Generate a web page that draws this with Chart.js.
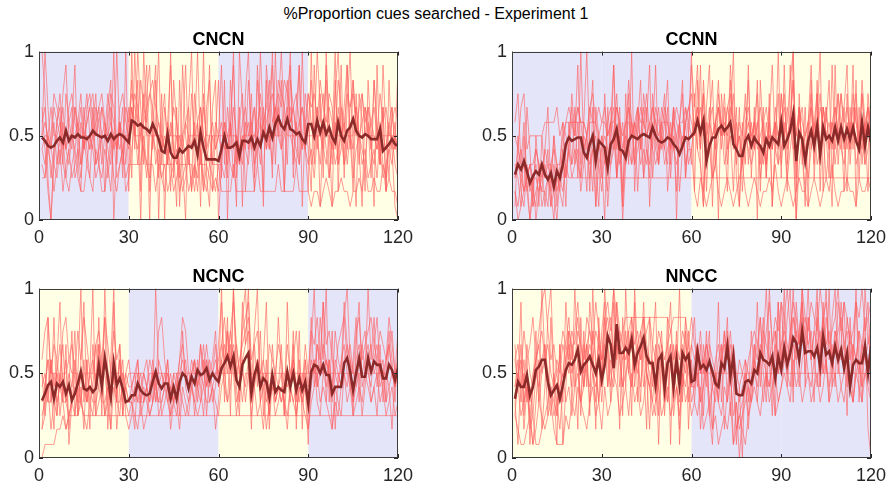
<!DOCTYPE html>
<html><head><meta charset="utf-8">
<script src="https://cdn.jsdelivr.net/npm/chart.js@4"></script>
<style>
html,body{margin:0;padding:0;background:#fff;}
body{width:888px;height:486px;position:relative;overflow:hidden;font-family:"Liberation Sans",Arial,sans-serif;}
canvas{position:absolute;}
#suptitle{position:absolute;left:0;width:872px;top:5px;text-align:center;font-size:16px;line-height:18px;color:#000;}
</style></head>
<body>
<div id="suptitle">%Proportion cues searched - Experiment 1</div>
<canvas id="c0" width="420" height="221" style="left:0px;top:29px"></canvas>
<canvas id="c1" width="415" height="221" style="left:473px;top:29px"></canvas>
<canvas id="c2" width="420" height="222" style="left:0px;top:266px"></canvas>
<canvas id="c3" width="415" height="222" style="left:473px;top:266px"></canvas>
<script>
const panelTitles = ['CNCN','CCNN','NCNC','NNCC'];
const phaseOrder = [['C','N','C','N'],['C','C','N','N'],['N','C','N','C'],['N','N','C','C']];
const phaseEdges = [0,30,60,90,120];
const xTicks = [0,30,60,90,120];
const yTicks = [0,0.5,1];
const trials = Array.from({length:120},(_, i)=>i+1);

const meanCNCN = [.49,.47,.44,.43,.44,.47,.49,.46,.53,.47,
.50,.49,.51,.49,.49,.48,.50,.53,.51,.50,
.49,.50,.47,.51,.48,.50,.51,.50,.48,.46,
.59,.58,.56,.57,.55,.54,.52,.57,.53,.48,
.41,.40,.51,.40,.37,.37,.42,.40,.42,.44,
.43,.47,.39,.52,.43,.36,.36,.36,.36,.35,
.42,.50,.43,.43,.44,.46,.38,.47,.47,.46,
.49,.43,.48,.44,.52,.48,.55,.49,.57,.61,
.56,.54,.60,.54,.53,.51,.52,.48,.46,.57,
.57,.50,.59,.52,.58,.51,.55,.49,.46,.58,
.50,.47,.53,.55,.60,.53,.50,.49,.51,.50,
.48,.48,.48,.54,.41,.43,.45,.48,.45,.44];
const meanCCNN = [.27,.33,.30,.35,.29,.22,.26,.29,.27,.33,
.27,.24,.28,.20,.29,.25,.33,.45,.49,.47,
.48,.49,.49,.40,.37,.45,.50,.35,.47,.45,
.43,.31,.45,.48,.54,.42,.41,.37,.47,.50,
.49,.48,.50,.51,.50,.49,.55,.50,.47,.46,
.47,.49,.48,.45,.43,.39,.44,.49,.48,.50,
.52,.59,.52,.59,.35,.44,.49,.49,.54,.56,
.53,.55,.58,.45,.42,.38,.38,.47,.50,.44,
.49,.46,.44,.40,.48,.44,.49,.47,.45,.58,
.44,.48,.53,.63,.35,.52,.48,.35,.47,.53,
.44,.56,.39,.55,.48,.50,.47,.55,.47,.55,
.48,.54,.48,.55,.47,.42,.58,.44,.55,.46];
const meanNCNC = [.34,.38,.43,.45,.35,.44,.42,.45,.38,.43,
.34,.38,.44,.51,.41,.40,.42,.39,.41,.55,
.42,.59,.48,.36,.56,.43,.47,.41,.33,.34,
.37,.37,.44,.40,.38,.37,.38,.45,.51,.44,
.41,.44,.44,.35,.42,.35,.45,.50,.48,.41,
.48,.44,.52,.49,.50,.53,.46,.50,.47,.45,
.53,.56,.60,.54,.60,.46,.42,.55,.59,.62,
.38,.49,.55,.42,.47,.45,.36,.49,.39,.42,
.40,.39,.51,.42,.50,.40,.47,.40,.45,.32,
.51,.55,.54,.50,.55,.49,.49,.38,.42,.42,
.42,.56,.59,.51,.40,.50,.59,.48,.48,.59,
.51,.57,.55,.55,.47,.47,.55,.52,.46,.53];
const meanNNCC = [.35,.45,.42,.42,.49,.37,.42,.52,.54,.58,
.58,.45,.37,.40,.43,.35,.43,.52,.56,.55,
.58,.64,.51,.55,.57,.60,.55,.50,.58,.46,
.55,.72,.67,.53,.79,.62,.62,.65,.62,.70,
.55,.62,.66,.71,.60,.56,.56,.43,.58,.61,
.41,.56,.60,.42,.58,.43,.62,.58,.61,.45,
.46,.63,.53,.55,.52,.57,.51,.44,.42,.56,
.53,.66,.48,.60,.38,.37,.37,.45,.46,.44,
.52,.50,.62,.58,.57,.55,.60,.47,.60,.52,
.65,.55,.62,.71,.68,.58,.75,.62,.63,.63,
.60,.65,.54,.72,.61,.63,.56,.66,.58,.64,
.53,.62,.42,.55,.58,.56,.56,.66,.50,.66];

const cncnP1 = [.5,1,.67,.42,.58,.33,.5,.75,.92,.5,.42,.67,.5,.33,.58,.75,.5,.42,.67,.58,.33,.5,.75,.58,.42,1,.5,.67,.33,.58,.83,.5,1,.67,.33,.75,.92,.42,.58,1,.33,.67,.5,.17,.83,.58,.25,.92,.5,.33,.75,.5,1,.42,.17,.67,.83,.33,.58,.5,.92,.33,.67,.5,1,.25,.58,.75,.42,.83,.5,.67,.33,1,.58,.42,.75,.92,.5,.67,1,.58,.33,.83,.67,.5,.92,.42,.75,.58,.83,.5,1,.67,.42,.92,.58,.33,.75,1,.5,.67,.92,.42,.83,.58,.33,.75,.5,.67,.42,.83,.58,.33,.92,.5,.25,.67,.42,.92];
const cncnP2 = [.25,.25,.42,.33,.17,.33,.5,.33,.25,.17,.33,.42,.25,.17,.17,.33,.5,.42,.25,.33,.17,.17,.33,.5,.25,.17,.33,.42,.25,.33,.33,.33,.33,.33,.5,.33,.33,.33,.17,.33,.33,.33,.33,.33,.33,.5,.33,.33,.33,.33,.33,.17,.33,.33,.33,.33,.5,.33,.33,.33,.17,.17,.17,.17,.33,.17,.17,.17,.17,.17,.17,.17,.33,.17,.17,.17,.17,.17,.17,.33,.17,.17,.17,.17,.17,.33,.17,.17,.17,.17,.08,.17,.17,.08,.17,.25,.17,.08,.17,.17,.25,.17,.17,.08,.17,.17,.25,.17,.33,.17,.17,.25,.17,.17,.33,.17,.25,.17,.17,.08];
const cncnP3 = [.42,.5,.5,.67,.5,.5,.58,.5,.42,.5,.5,.5,.58,.5,.5,.5,.42,.5,.5,.67,.5,.5,.5,.58,.5,.5,.42,.5,.5,.5,.67,.5,.5,.5,.75,.5,.5,.5,.5,.5,.5,.42,.5,.5,.5,.5,.5,.5,.33,.5,.5,.5,.5,.5,.67,.5,.5,.5,.5,.5,.5,.5,.5,.5,.5,.5,.42,.5,.5,.5,.5,.5,.5,.58,.5,.5,.5,.5,.5,.5,.5,.67,.5,.5,.5,.5,.5,.42,.5,.5,.5,.5,.5,.5,.58,.5,.5,.5,.5,.5,.5,.5,.5,.5,.5,.67,.5,.5,.5,.5,.5,.5,.42,.5,.5,.5,.5,.5,.5,.5];
const cncnP4 = [1,.75,.25,0,.42,.58,.67,.33,.75,.58,.67,.25,.33,.58,.42,.67,.75,.58,.33,.42,.67,.58,.25,.42,1,.33,.58,.42,.5,.67,.25,1,.58,0,.67,.92,.17,.5,.83,0,.58,.75,.33,1,.25,.67,.08,.5,.92,.42,.17,.75,.58,.33,1,.25,.08,.67,.83,0,.33,.58,.25,.83,.5,.08,1,.67,.17,.42,.75,.25,.92,.58,.17,.83,.42,1,.33,.67,.5,.17,.75,.92,.25,.58,.33,1,.42,.17,1,.33,.67,.08,.58,.83,.25,.5,1,.17,.67,.33,.92,.5,.17,.75,.42,.08,.67,.58,.25,.83,.5,.33,.67,.17,.58,.42,.08,0];
const cncnP5 = [.58,.67,.42,.5,.75,.67,.58,.42,.5,.67,.75,.58,.5,.67,.42,.58,.67,.75,.5,.58,.67,.5,.58,.75,.67,.42,.58,.5,.67,.58,.75,.67,.58,.83,.67,.58,.75,.67,.5,.58,.42,.5,.33,.58,.42,.33,.5,.42,.58,.5,.42,.58,.33,.67,.5,.42,.33,.5,.42,.5,.42,.58,.5,.42,.67,.5,.42,.58,.67,.5,.58,.67,.5,.75,.58,.67,.83,.58,.67,.75,.67,.83,.75,.58,.67,.75,.58,.67,.5,.75,.67,.75,.58,.83,.67,.58,.75,.67,.5,.83,.67,.58,.75,.67,.83,.5,.67,.75,.58,.67,.58,.67,.5,.75,.58,.67,.5,.58,.67,.58];
const cncnP6 = [.33,.25,.5,.42,.33,.25,.42,.17,.33,.42,.25,.33,.42,.25,.5,.33,.25,.17,.42,.33,.25,.42,.33,.17,.5,.25,.33,.42,.17,.25,.42,.58,.33,.5,.42,.25,.5,.58,.33,.42,.25,.17,.42,.33,.17,.25,.33,.17,.25,.42,.17,.33,.25,.42,.17,.33,.25,.17,.25,.17,.42,.5,.33,.58,.25,.42,.33,.5,.42,.33,.58,.42,.5,.33,.67,.5,.42,.58,.67,.5,.42,.58,.67,.5,.42,.33,.58,.5,.42,.33,.42,.25,.5,.33,.58,.42,.25,.5,.33,.42,.5,.33,.42,.58,.25,.42,.5,.33,.42,.25,.33,.42,.25,.5,.33,.25,.42,.33,.5,.42];
const cncnP7 = [.67,.42,.17,0,.33,.58,.75,.5,.25,.42,.58,.92,.33,.17,.67,.42,.25,.58,.75,.33,.5,.17,.67,.83,0,.42,.58,.25,1,.17,1,.42,.83,.17,1,.58,0,.67,.92,.25,.75,0,.58,.92,.42,.08,.83,.33,0,.67,1,.25,.58,.08,.75,.42,.92,.17,.5,.83,.25,.83,0,.58,.92,.33,.67,.08,.75,1,.42,.17,.83,.58,.08,.92,.67,.25,1,.5,.83,.17,.58,1,.33,.67,.92,.08,.58,.42,.17,.92,.42,.75,.25,1,.5,.08,.83,.33,.92,.25,.67,1,.42,.08,.75,.58,.17,.83,.5,.08,.92,.33,.67,.17,.83,.42,.58,.25];
const cncnP8 = [.5,.58,.5,.42,.67,.58,.5,.67,.42,.58,.5,.67,.58,.75,.5,.58,.67,.5,.58,.67,.75,.58,.5,.67,.58,.42,.67,.75,.58,.5,.58,.75,.67,.5,.58,.67,.75,.83,.67,.58,.5,.42,.58,.5,.67,.58,.42,.5,.58,.67,.42,.5,.58,.67,.5,.42,.5,.58,.42,.5,.58,.42,.5,.58,.42,.5,.33,.42,.5,.58,.42,.5,.58,.67,.5,.58,.67,.75,.58,.83,.75,.67,.83,.58,.67,.5,.58,.67,.58,.75,.58,.5,.67,.58,.75,.5,.67,.58,.42,.67,.5,.58,.42,.67,.75,.58,.5,.58,.67,.5,.58,.5,.42,.58,.5,.42,.58,.67,.42,.5];
const cncnP9 = [.42,.33,.5,.25,.42,.5,.33,.58,.42,.33,.5,.42,.58,.33,.42,.5,.42,.67,.33,.42,.5,.58,.42,.33,.5,.42,.58,.33,.5,.42,.67,.5,.42,.58,.42,.33,.25,.5,.42,.33,.25,.33,.17,.25,.33,.42,.17,.25,.33,.17,.25,.33,.17,.42,.25,.17,.33,.25,.17,.33,.33,.25,.42,.33,.25,.5,.42,.33,.58,.42,.5,.33,.42,.5,.58,.42,.5,.33,.67,.58,.42,.5,.58,.67,.5,.42,.33,.5,.42,.58,.33,.42,.58,.5,.42,.33,.5,.42,.58,.33,.42,.58,.33,.5,.42,.67,.5,.42,.33,.58,.42,.33,.5,.42,.25,.33,.42,.5,.33,.25];

const ccnnP1 = [.25,.33,.25,.17,.25,.33,.25,.25,.17,.25,.33,.25,.25,.17,.25,.25,.25,.33,.25,.25,.25,.25,.25,.25,.25,.25,.25,.25,.25,.25,.25,.25,.25,.25,.25,.25,.25,.25,.25,.25,.25,.25,.25,.25,.25,.25,.25,.25,.25,.25,.25,.25,.25,.25,.25,.25,.25,.25,.25,.25,.25,.25,.25,.25,.25,.25,.25,.25,.25,.25,.25,.25,.25,.25,.25,.25,.25,.25,.25,.25,.25,.25,.25,.25,.25,.25,.25,.25,.25,.25,.25,.25,.25,.25,.25,.25,.25,.25,.25,.25,.25,.25,.25,.25,.25,.25,.25,.25,.25,.25,.25,.25,.25,.25,.25,.25,.25,.25,.25,.25];
const ccnnP2 = [.08,.5,.17,.08,.33,.17,.25,0,.17,.33,.08,.25,.17,0,.33,.17,.08,.42,.5,.67,.33,.58,.25,.42,.5,.17,.67,.33,.08,.5,.42,.17,.58,.67,.25,.5,.08,.42,.75,.33,.58,.17,.5,.67,.42,.25,.75,.5,.33,.58,.42,.67,.25,.5,.17,.58,.42,.67,.5,.33,.75,.42,.92,.17,.5,.67,.08,.58,.83,.42,.67,.33,.58,1,.25,.08,.5,.75,.33,.58,.42,.83,.17,.58,.33,.67,.08,.5,.75,.25,.92,.33,.58,1,.17,.67,.42,.08,.58,.75,.33,.83,.17,.67,.5,.25,.92,.42,.58,.75,.5,.17,.67,.42,.83,.25,.58,.33,.75,.5];
const ccnnP3 = [.5,.42,.67,.75,.42,.5,.5,.5,.5,.5,.58,.58,.58,.58,.67,.5,.58,.5,.42,.58,.58,.58,.58,.58,.5,.67,.58,.58,.5,.58,.67,.5,.58,.42,.67,.58,.5,.58,.67,.5,.58,.5,.67,.58,.5,.58,.42,.67,.58,.5,.67,.58,.5,.58,.67,.58,.42,.58,.67,.58,.5,.58,.67,.5,.58,.42,.5,.58,.67,.5,.58,.5,.67,.58,.42,.58,.5,.67,.58,.5,.58,.42,.5,.58,.67,.5,.42,.58,.5,.58,.67,.5,.58,.42,.5,.67,.58,.5,.58,.42,.58,.5,.67,.58,.5,.42,.58,.67,.5,.58,.42,.58,.5,.67,.58,.5,.42,.58,.5,.58];
const ccnnP4 = [.33,.25,.08,.5,.17,0,.25,.33,.08,.5,.25,.42,.08,.33,.17,.25,.42,.08,.58,.33,.67,.25,1,.42,.17,.58,.83,.08,.5,.33,0,.67,.42,.92,.25,.58,.08,.75,.33,1,.17,.58,.83,.25,.67,.08,.5,.92,.33,.58,.75,.17,.42,.67,0,.58,.83,.25,.5,1,.17,.83,.33,.08,.67,.92,.25,.58,0,.75,.5,.17,.83,.42,.67,.08,.58,.33,.92,.25,.67,0,.83,.5,.25,.75,.08,.42,1,.33,.58,.17,.92,.42,0,.75,.33,.67,.08,.83,.25,.58,1,.17,.67,.42,.08,.92,.33,.58,.17,.75,.42,.92,.08,.67,.33,.58,.17,.83];
const ccnnP5 = [.25,.42,.33,.58,.25,.33,.17,.42,.33,.25,.42,.33,.25,.5,.33,.25,.42,.58,.67,.58,.5,.67,.58,.42,.5,.67,.75,.58,.42,.5,.33,.58,.67,.5,.75,.42,.58,.33,.67,.58,.5,.67,.42,.58,.75,.5,.67,.58,.42,.67,.58,.5,.42,.67,.58,.5,.42,.58,.67,.75,.5,.67,.42,.83,.5,.58,.67,.42,.75,.58,.5,.67,.75,.58,.42,.5,.33,.58,.67,.5,.42,.58,.67,.5,.33,.58,.42,.67,.5,.58,.75,.42,.58,.83,.5,.67,.42,.5,.58,.67,.42,.58,.75,.5,.67,.42,.58,.5,.75,.58,.67,.42,.58,.5,.67,.42,.75,.5,.67,.5];
const ccnnP6 = [.17,.08,.25,.33,.17,.25,.08,.17,.25,.17,.17,.25,.08,.17,.25,.17,.33,.25,.42,.33,.42,.33,.25,.5,.42,.33,.42,.5,.33,.42,.5,.42,.33,.42,.5,.33,.42,.5,.42,.33,.42,.5,.33,.42,.33,.5,.42,.33,.42,.5,.33,.42,.5,.42,.33,.42,.5,.33,.42,.42,.17,.08,.25,.17,.08,.17,.25,.33,.17,.08,.17,.25,.17,.08,.17,.25,.33,.17,.08,.17,.25,.17,.08,.17,.17,.25,.17,.33,.17,.08,.17,.25,.17,.08,.17,.25,.17,.17,.08,.17,.25,.17,.08,.17,.25,.17,.33,.17,.08,.17,.17,.25,.17,.17,.08,.25,.17,.17,.25,.17];
const ccnnP7 = [.58,.75,.33,.17,.67,.42,.08,.5,.25,.17,.42,.67,.17,.5,.08,.33,.58,.25,.42,.75,.5,.92,.33,.58,1,.42,.17,.67,.5,.25,.75,.33,.58,.92,.42,.67,.17,.5,.83,.58,.33,.67,.42,.75,.58,.92,.25,.5,.67,.42,.58,.83,.33,.67,.42,.58,.75,.25,.5,.92,.67,.92,.42,.75,.17,.58,.83,.33,.67,.5,.75,.42,.92,.58,.33,.67,.17,.5,.83,.42,.58,.75,.33,.67,.25,.58,.92,.42,.33,.75,.5,.58,.83,1,.25,.67,.42,.17,.58,.92,.42,.75,.33,.67,.58,.83,.25,.5,.75,.42,.67,.92,.33,.58,.75,.42,.83,.58,.67,.33];
const ccnnP8 = [.33,.33,.42,.33,.25,.33,.33,.42,.33,.33,.25,.33,.33,.42,.33,.33,.5,.58,.58,.58,.58,.67,.58,.58,.5,.58,.58,.58,.67,.58,.58,.5,.58,.58,.67,.58,.42,.58,.58,.5,.58,.67,.58,.58,.5,.58,.67,.58,.5,.58,.58,.58,.42,.58,.5,.58,.58,.67,.58,.5,.58,.67,.5,.75,.33,.58,.5,.58,.67,.58,.5,.67,.58,.75,.42,.5,.33,.5,.58,.42,.58,.5,.42,.33,.58,.42,.5,.58,.42,.75,.5,.67,.58,.83,.33,.58,.67,.42,.5,.67,.58,.75,.42,.67,.5,.58,.42,.67,.5,.75,.58,.67,.5,.75,.58,.42,.75,.5,.67,.58];
const ccnnP9 = [.17,0,.08,.17,.25,0,.17,.08,.33,.08,.17,.08,.33,.17,0,.25,.17,.33,.42,.25,.33,.42,.17,.33,.5,.25,.42,.08,.33,.17,.42,.08,.33,.5,.25,.42,0,.33,.42,.58,.33,.42,.5,.25,.42,.33,.58,.42,.33,.5,.42,.33,.58,.42,.5,.17,.42,.58,.33,.42,.58,.42,.33,.08,.5,.42,.25,.33,.5,.58,.33,.42,.5,.17,.58,.42,.33,.5,.42,.33,.42,.58,.25,.42,.33,.5,.42,.58,.33,.42,.5,.25,.42,.58,0,.33,.5,.42,.25,.42,.58,.33,.42,.5,.25,.42,.58,.33,.5,.42,.33,.5,.42,.58,.33,.42,.5,.33,.42,.58];

const ncncP1 = [0,.08,.08,.08,.08,.17,.17,.25,.17,.25,.25,.25,.25,.33,.25,.25,.25,.25,.25,.25,.25,.25,.25,.25,.25,.25,.25,.25,.25,.25,.25,.25,.25,.25,.25,.25,.25,.25,.25,.25,.25,.25,.25,.25,.25,.25,.25,.25,.25,.25,.25,.25,.25,.25,.25,.25,.25,.25,.25,.25,.25,.25,.25,.25,.25,.25,.25,.25,.25,.25,.25,.25,.25,.25,.25,.25,.25,.25,.25,.25,.25,.25,.25,.25,.25,.25,.25,.25,.25,.25,.25,.25,.25,.25,.25,.25,.25,.25,.25,.25,.25,.25,.25,.25,.25,.25,.25,.25,.25,.25,.25,.25,.25,.25,.25,.25,.25,.25,.25,.25];
const ncncP2 = [.5,.42,.58,.5,.5,.5,.42,.5,.5,.58,.5,.5,.5,.33,.5,.5,.5,.5,.67,.5,.5,.5,.33,.5,.5,.5,.5,.5,.42,.5,.5,.5,.5,.5,.5,.42,.5,.5,.5,.5,.5,.5,.5,.33,.5,.5,.5,.5,.5,.5,.5,.5,.5,.5,.5,.67,.5,.5,.5,.5,.5,.5,.5,.5,.5,.5,.5,.33,.5,.5,.5,.5,.5,.5,.5,.5,.5,.5,.5,.5,.5,.5,.42,.5,.5,.5,.5,.5,.5,.5,.5,.5,.5,.5,.5,.58,.5,.5,.5,.5,.5,.5,.5,.5,.5,.5,.5,.5,.5,.5,.5,.5,.5,.5,.5,.5,.42,.5,.5,.5];
const ncncP3 = [.17,.42,.58,.33,.83,.25,.5,.67,.33,.42,.75,.25,.5,1,.33,.58,.17,.67,.42,.83,.25,1,.5,.17,.92,.33,.58,.25,.42,.33,.33,.17,.5,.25,.33,.42,.25,.33,1,.5,.25,.33,.42,.17,.33,.5,.25,.75,.42,.33,.5,.25,.42,.33,.58,.25,.5,.33,.42,.67,.92,.33,.75,.5,1,.42,.25,.83,1,.58,.17,.67,.42,.75,.25,.58,.17,.5,.33,.42,.67,.25,.5,.33,.75,.17,.58,.33,.42,.08,.67,1,.42,.83,.58,1,.33,.75,.17,.5,.42,.83,1,.58,.25,.67,.92,.42,.5,1,.58,.83,.42,.67,.33,.5,.75,.58,.33,.67];
const ncncP4 = [.42,.5,.33,.58,.42,.5,.67,.42,.33,.5,.42,.58,.33,.5,.42,.33,.5,.58,.42,.67,.5,.58,.42,.33,.5,.42,.58,.33,.42,.33,.42,.33,.42,.5,.33,.42,.33,.58,.42,.33,.42,.5,.33,.42,.33,.25,.42,.5,.58,.42,.5,.58,.42,.67,.5,.58,.42,.5,.58,.5,.58,.67,.5,.75,.58,.67,.5,.58,.67,.75,.42,.5,.58,.42,.5,.33,.42,.5,.33,.42,.33,.42,.5,.42,.58,.42,.33,.5,.42,.33,.58,.5,.67,.58,.5,.58,.42,.33,.5,.42,.58,.67,.5,.42,.33,.58,.67,.5,.58,.67,.5,.58,.67,.5,.42,.58,.67,.5,.42,.58];
const ncncP5 = [.25,.33,.42,.17,.33,.25,.5,.33,.17,.25,.33,.25,.42,.33,.25,.17,.33,.42,.25,.33,.42,.25,.33,.17,.42,.33,.25,.5,.33,.25,.33,.25,.17,.33,.42,.33,.25,.33,.42,.33,.33,.42,.33,.25,.33,.33,.42,.33,.25,.33,.42,.33,.25,.33,.42,.33,.33,.42,.33,.25,.42,.5,.33,.42,.58,.33,.42,.5,.42,.58,.33,.42,.25,.33,.42,.17,.33,.42,.25,.33,.42,.33,.25,.42,.33,.25,.42,.33,.25,.17,.33,.42,.5,.33,.42,.33,.25,.17,.33,.25,.42,.5,.33,.42,.25,.33,.42,.33,.5,.42,.33,.42,.5,.33,.42,.25,.33,.42,.25,.33];
const ncncP6 = [.58,.75,.83,.5,.67,.58,.42,.75,.83,.58,.67,.5,.75,.58,.83,.67,.5,.42,.67,.75,.58,.83,.67,.5,.75,.58,.67,.42,.5,.58,.42,.5,.58,.33,.5,.42,.58,.5,.42,.75,.83,.58,.42,.5,.33,.42,.58,.83,.75,.5,.42,.58,.33,.5,.67,.42,.5,.58,.75,.42,.67,.83,.58,.75,.92,.67,.5,.75,.83,.92,.58,.67,.75,.5,.58,.42,.67,.58,.5,.67,.58,.42,.67,.5,.58,.75,.5,.42,.67,.5,.75,.67,.83,.58,.92,.67,.75,.58,.5,.67,.75,.83,.58,.67,.5,.75,.83,.58,.67,.75,.83,.67,.58,.75,.67,.58,.83,.67,.5,.75];
const ncncP7 = [.5,.25,.83,.42,.17,.58,.92,.33,.67,.17,.42,.75,.25,.58,.92,.33,.5,1,.25,.67,.42,.83,.17,.58,1,.33,.67,.25,.5,.42,.42,.5,.33,.42,.5,.58,.42,.5,.33,.58,.5,.42,.58,.33,.5,.42,.58,.67,.5,.42,.58,.5,.42,.67,.5,.42,.58,.5,.67,.42,1,.5,.83,.25,1,.58,.33,.92,.67,1,.42,.75,1,.33,.58,.92,.25,.67,.42,.83,.5,.25,.92,.42,.67,.33,.75,.17,.58,.42,.83,.42,.67,.5,.92,.33,.58,.42,.75,.58,.5,.92,.67,.42,.58,.83,.33,.67,.75,.5,.42,.67,.83,.5,.58,.33,.67,.75,.5,.58];
const ncncP8 = [.33,.42,.33,.33,.5,.33,.42,.33,.33,.25,.33,.42,.33,.33,.58,.33,.42,.33,.33,.42,.33,.33,.42,.33,.5,.33,.33,.42,.33,.33,.33,.42,.33,.33,.33,.42,.33,.5,.33,.42,.5,.42,.5,.42,.33,.42,.5,.58,.5,.42,.5,.58,.42,.5,.42,.58,.5,.42,.5,.58,.67,.58,.75,.58,.67,.5,.58,.67,.75,.83,.5,.42,.58,.5,.42,.5,.33,.42,.5,.42,.33,.42,.5,.42,.33,.42,.5,.42,.58,.33,.5,.58,.42,.5,.67,.58,.5,.42,.58,.5,.42,.58,.67,.58,.5,.42,.58,.67,.5,.58,.67,.5,.58,.42,.5,.58,.67,.5,.42,.5];
const ncncP9 = [.17,.25,.42,.58,.33,.5,.25,.42,.58,.08,.33,.5,.25,.42,.17,.58,.33,.25,.5,.42,.58,.25,.42,.33,.5,.17,.42,.58,.25,.17,.25,.42,.58,.33,.17,.25,.42,.33,.5,.25,.33,.42,.58,.25,.42,.33,.17,.42,.33,.25,.42,.33,.58,.42,.25,.5,.33,.42,.17,.33,.58,.42,.33,.67,.5,.25,.42,.58,.33,.5,.25,.42,.58,.33,.17,.42,.25,.5,.33,.42,.5,.33,.17,.42,.58,.25,.42,.33,.5,.17,.42,.58,.33,.25,.5,.42,.58,.17,.42,.33,.25,.5,.42,.58,.33,.42,.5,.25,.42,.58,.33,.42,.25,.58,.5,.33,.42,.17,.5,.42];

const nnccP1 = [.58,.42,.67,.33,.5,.25,.42,.58,.33,.5,.67,.42,.25,.5,.33,.17,.42,.58,.5,.67,.42,.58,.33,.67,.5,.42,.75,.58,.33,.5,.67,.42,.58,.5,.75,.42,.58,.67,.5,.42,.58,.5,.67,.42,.58,.5,.33,.58,.42,.67,.5,.33,.58,.42,.67,.5,.42,.58,.5,.42,.5,.5,.5,.5,.5,.5,.5,.5,.5,.5,.5,.5,.5,.5,.5,.5,.5,.5,.5,.5,.5,.5,.5,.5,.5,.5,.5,.5,.5,.5,.5,.5,.5,.5,.5,.5,.5,.5,.5,.5,.5,.5,.5,.5,.5,.5,.5,.5,.5,.5,.5,.5,.5,.5,.5,.5,.5,.5,.5,.5];
const nnccP2 = [.33,.08,.5,.17,.42,.25,.08,.33,.58,.17,.42,.83,1,.5,.25,.67,.08,.42,.75,.33,.58,.17,.83,.42,.67,.25,1,.5,.33,.75,.92,.42,.67,1,.58,.17,.83,.42,.75,.25,1,.58,.33,.83,.5,.17,.67,.92,.25,.58,.42,.83,.08,.67,.5,1,.33,.75,.17,.58,.33,.58,.17,.42,.75,.25,.08,.5,.33,.67,.17,.42,.58,.08,.33,0,.25,.5,.17,.42,.67,.33,.58,.83,.42,1,.67,.25,.92,.58,1,.5,.75,.33,.92,.67,1,.42,.83,.58,.75,1,.42,.92,.58,.33,.83,1,.5,.67,.92,.42,.75,.58,1,.33,.67,.83,.17,0];
const nnccP3 = [.25,.17,.08,.08,.17,.25,.08,.17,.33,.25,.17,.25,.33,.17,.08,.08,.08,.25,.17,.33,.25,.42,.33,.25,.17,.33,.42,.25,.33,.17,.42,.25,.33,.5,.42,.25,.33,.42,.25,.5,.33,.42,.25,.33,.5,.42,.25,.33,.42,.25,.33,.42,.25,.33,.42,.25,.5,.33,.42,.25,.33,.25,.42,.17,.25,.33,.17,.25,.08,.17,.25,.17,.33,.08,.17,.25,.17,.08,.25,.33,.42,.33,.25,.42,.5,.33,.42,.25,.33,.42,.5,.42,.33,.58,.42,.5,.33,.42,.5,.33,.42,.5,.33,.42,.58,.33,.42,.5,.33,.42,.33,.5,.42,.33,.5,.42,.33,.5,.42,.33];
const nnccP4 = [.58,.67,.5,.75,.58,.67,.83,.58,.75,.92,1,.75,.58,.67,.5,.58,.75,.67,.83,.58,.75,.92,.67,.58,.83,.75,.67,.92,.75,.58,.83,.92,.75,1,.83,.67,.75,.83,.83,.83,.83,.83,.83,.83,.83,.83,.83,.83,.83,.83,.83,.83,.75,.83,.83,.83,.83,.83,.67,.83,.67,.58,.75,.5,.67,.58,.42,.58,.67,.5,.75,.58,.67,.5,.42,.58,.5,.42,.58,.67,.75,.67,.83,.58,.75,.92,.67,.83,.75,.92,.83,1,.75,.92,.83,.67,1,.83,.75,.92,.83,.75,1,.83,.92,.67,.75,.83,1,.75,.92,.83,.67,.75,.92,.83,1,.75,.83,.92];
const nnccP5 = [.42,.58,.33,.5,.42,.33,.5,.58,.67,.5,.58,.42,.33,.42,.5,.33,.42,.58,.67,.5,.58,.67,.5,.58,.67,.75,.58,.5,.67,.42,.75,.83,.67,.58,.92,.75,.67,.58,.67,.75,.58,.67,.75,.83,.67,.58,.5,.42,.67,.58,.42,.58,.67,.33,.58,.5,.67,.58,.67,.42,.58,.67,.5,.58,.42,.67,.58,.5,.33,.58,.67,.58,.75,.5,.42,.33,.42,.5,.42,.33,.58,.5,.67,.58,.5,.42,.58,.67,.5,.58,.67,.58,.75,.83,.67,.58,.75,.83,.67,.75,.58,.67,.75,.5,.83,.67,.58,.75,.67,.58,.67,.58,.42,.67,.58,.5,.67,.58,.5,.75];
const nnccP6 = [.25,.5,.42,.58,.33,.42,.25,.5,.42,.58,.67,.5,.42,.33,.25,.42,.5,.67,.58,.75,.67,.83,.58,.42,.67,.58,.5,.33,.75,.42,.83,.58,.42,.67,.92,.58,.42,.75,.5,.83,.42,.67,.58,.92,.5,.42,.33,.25,.58,.75,.33,.5,.67,.25,.42,.17,.58,.5,.75,.42,.42,.58,.33,.67,.5,.25,.42,.33,.5,.58,.75,.33,.58,.42,.17,.25,.33,.42,.25,.5,.67,.58,.83,.5,.33,.75,.42,.58,.92,.5,.83,.42,.67,1,.58,.75,.92,.5,.83,.67,.58,.83,.42,.75,1,.58,.67,.42,.92,.75,.5,.83,.67,.33,.58,.75,.42,1,.67,.83];
const nnccP7 = [.67,.42,.92,.25,.58,.08,.42,.75,.33,1,.58,.25,.83,.42,.08,.67,.33,.92,.58,.42,1,.58,.25,.75,.42,.92,.67,.17,.83,.5,1,.67,.33,.92,.58,.75,.25,1,.58,.42,.92,.33,.75,.58,.17,.83,.42,.67,.08,.58,.25,.67,.92,.42,.75,.08,.5,.83,.33,.67,.83,.42,.67,.25,.58,.75,.17,.42,.92,.33,.58,.83,.25,.67,.08,.42,0,.58,.33,.75,.5,.92,.42,.67,1,.58,.25,.75,.5,.92,.58,.83,1,.42,.75,.5,.92,.67,1,.58,.33,.92,.67,.83,.5,1,.42,.75,.58,.92,.67,.25,.83,.5,.92,.58,.33,.75,.92,.42];
const nnccP8 = [.42,.5,.58,.42,.67,.5,.42,.58,.67,.75,.58,.67,.5,.42,.58,.5,.67,.58,.75,.67,.58,.75,.67,.5,.58,.67,.58,.75,.67,.58,.67,.75,.83,.58,.75,.67,.58,.67,.75,.83,.67,.75,.58,.67,.75,.83,.67,.58,.75,.67,.58,.67,.75,.58,.67,.58,.75,.67,.58,.67,.58,.67,.5,.58,.67,.58,.5,.42,.58,.67,.5,.75,.58,.67,.5,.42,.5,.58,.5,.42,.58,.67,.58,.75,.67,.58,.67,.75,.58,.67,.75,.67,.58,.83,.75,.67,.83,.75,.67,.58,.75,.67,.58,.83,.67,.75,.58,.67,.75,.83,.67,.75,.58,.67,.58,.75,.67,.58,.67,.75];
const nnccP9 = [.33,.42,.25,.33,.42,.17,.25,.08,.08,.17,.25,.33,.42,.25,.33,.42,.5,.33,.42,.25,.42,.5,.33,.42,.58,.33,.5,.42,.58,.33,.58,.67,.5,.42,.67,.58,.42,.5,.58,.67,.5,.58,.42,.67,.5,.42,.58,.33,.5,.58,.42,.33,.58,.5,.42,.33,.5,.42,.58,.33,.42,.5,.33,.42,.58,.33,.42,.5,.33,.25,.42,.33,.5,.25,.33,.17,.25,.33,.42,.33,.5,.42,.58,.33,.5,.42,.58,.5,.33,.42,.58,.5,.42,.67,.58,.42,.58,.67,.5,.42,.58,.42,.67,.5,.58,.42,.5,.67,.58,.42,.5,.58,.42,.33,.5,.58,.42,.5,.58,.33];

const panelMeans = [meanCNCN, meanCCNN, meanNCNC, meanNNCC];
const panelParticipants = [
  [cncnP1,cncnP2,cncnP3,cncnP4,cncnP5,cncnP6,cncnP7,cncnP8,cncnP9],
  [ccnnP1,ccnnP2,ccnnP3,ccnnP4,ccnnP5,ccnnP6,ccnnP7,ccnnP8,ccnnP9],
  [ncncP1,ncncP2,ncncP3,ncncP4,ncncP5,ncncP6,ncncP7,ncncP8,ncncP9],
  [nnccP1,nnccP2,nnccP3,nnccP4,nnccP5,nnccP6,nnccP7,nnccP8,nnccP9]
];

const FONT = '"Liberation Sans", Arial, Helvetica, sans-serif';
Chart.defaults.font.family = FONT;
const AXIS_COLOR = '#262626';

const framePlugin = {
  id: 'frame',
  beforeDatasetsDraw(chart, args, opts) {
    const {ctx, chartArea: a, scales: {x}} = chart;
    ctx.save();
    opts.phases.forEach((p, i) => {
      const x0 = x.getPixelForValue(phaseEdges[i]);
      const x1 = x.getPixelForValue(phaseEdges[i + 1]);
      ctx.fillStyle = p === 'C' ? '#e5e5fa' : '#ffffe5';
      ctx.fillRect(x0, a.top, x1 - x0, a.bottom - a.top);
    });
    ctx.restore();
  },
  afterDatasetsDraw(chart) {
    const {ctx, chartArea: a, scales: {x, y}} = chart;
    ctx.save();
    ctx.strokeStyle = AXIS_COLOR;
    ctx.lineWidth = 1;
    ctx.beginPath();
    xTicks.forEach(v => {
      const px = Math.round(x.getPixelForValue(v)) + 0.5;
      ctx.moveTo(px, a.bottom); ctx.lineTo(px, a.bottom - 4);
      ctx.moveTo(px, a.top); ctx.lineTo(px, a.top + 4);
    });
    yTicks.forEach(v => {
      const py = Math.round(y.getPixelForValue(v)) + 0.5;
      ctx.moveTo(a.left, py); ctx.lineTo(a.left + 4, py);
      ctx.moveTo(a.right, py); ctx.lineTo(a.right - 4, py);
    });
    ctx.stroke();
    ctx.strokeStyle = '#3c3c3c';
    ctx.strokeRect(Math.round(a.left) + 0.5, Math.round(a.top) + 0.5,
                   Math.round(a.right - a.left) - 1, Math.round(a.bottom - a.top) - 1);
    ctx.restore();
  }
};

panelTitles.forEach((title, k) => {
  const datasets = [{
    data: panelMeans[k].map((v, i) => ({x: trials[i], y: v})),
    borderColor: '#8c2a2a', borderWidth: 2.6, pointRadius: 0, tension: 0, fill: false
  }];
  panelParticipants[k].forEach(series => {
    datasets.push({
      data: series.map((v, i) => ({x: trials[i], y: v})),
      borderColor: 'rgba(255,95,95,0.62)', borderWidth: 1, pointRadius: 0, tension: 0, fill: false
    });
  });
  new Chart(document.getElementById('c' + k), {
    type: 'line',
    data: {datasets},
    plugins: [framePlugin],
    options: {
      responsive: false, animation: false, events: [],
      layout: {padding: {left: 0, right: (k % 2 === 0) ? 22 : 17, top: 0, bottom: 0}},
      plugins: {
        legend: {display: false}, tooltip: {enabled: false},
        title: {display: true, text: title, fullSize: false, color: '#000',
                font: {size: 18, weight: 'bold', family: FONT}, padding: {top: 0, bottom: 1}},
        frame: {phases: phaseOrder[k]}
      },
      scales: {
        x: {
          type: 'linear', min: 0, max: 120,
          afterBuildTicks: s => { s.ticks = xTicks.map(v => ({value: v})); },
          ticks: {color: AXIS_COLOR, font: {size: 18}, padding: 7, maxRotation: 0, autoSkip: false},
          grid: {display: false, drawTicks: false}, border: {display: false},
          afterFit: s => { s.height = 30; s.paddingLeft = 0; s.paddingRight = 0; }
        },
        y: {
          type: 'linear', min: 0, max: 1,
          afterBuildTicks: s => { s.ticks = yTicks.map(v => ({value: v})); },
          ticks: {color: AXIS_COLOR, font: {size: 18}, padding: 5, callback: v => String(v)},
          grid: {display: false, drawTicks: false}, border: {display: false},
          afterFit: s => { s.width = 39; s.paddingTop = 0; s.paddingBottom = 0; }
        }
      }
    }
  });
});
</script>
</body></html>
